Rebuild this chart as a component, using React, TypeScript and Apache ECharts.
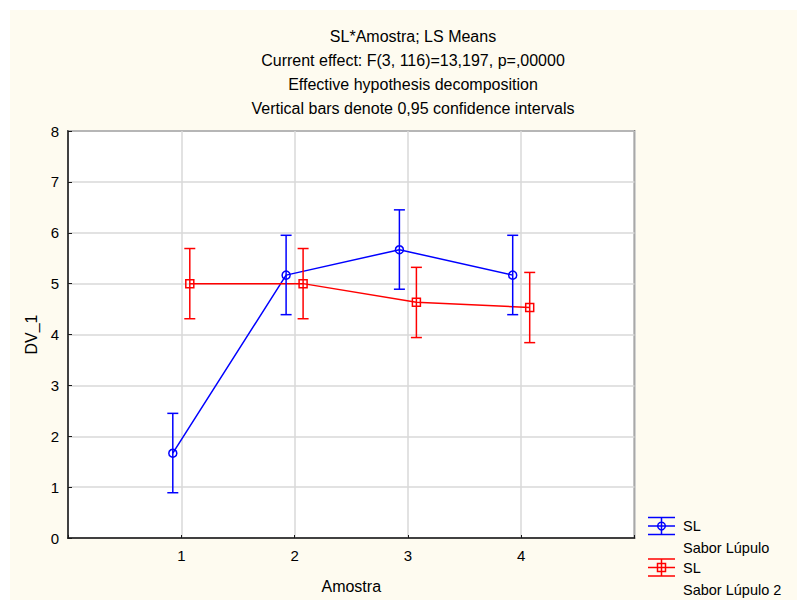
import React, { useEffect, useRef } from "react";
import * as echarts from "echarts";

// Sample levels on the x axis
const amostra = [1, 2, 3, 4];

// LS means and 0.95 confidence limits, group "SL / Sabor Lúpulo"
const meanSL1 = [1.667, 5.167, 5.667, 5.167];
const lowSL1 = [0.89, 4.39, 4.89, 4.39];
const highSL1 = [2.45, 5.95, 6.45, 5.95];

// LS means and 0.95 confidence limits, group "SL / Sabor Lúpulo 2"
const meanSL2 = [5.0, 5.0, 4.633, 4.533];
const lowSL2 = [4.31, 4.31, 3.94, 3.84];
const highSL2 = [5.69, 5.69, 5.32, 5.22];

const titleLines = [
  "SL*Amostra; LS Means",
  "Current effect: F(3, 116)=13,197, p=,00000",
  "Effective hypothesis decomposition",
  "Vertical bars denote 0,95 confidence intervals",
];

const yTicks = [0, 1, 2, 3, 4, 5, 6, 7, 8];

const FONT = "'Liberation Sans', Arial, sans-serif";
const BLUE = "#0000ff";
const RED = "#ff0000";
const DODGE = 0.075;

function errorBars(color: string, xs: number[], lo: number[], hi: number[], shift: number) {
  return {
    type: "custom",
    z: 3,
    data: xs.map((x, i) => [x + shift, lo[i], hi[i]]),
    encode: { x: 0, y: [1, 2] },
    renderItem: (_params: any, api: any) => {
      const x = api.value(0);
      const pLo = api.coord([x, api.value(1)]);
      const pHi = api.coord([x, api.value(2)]);
      const w = 5.5;
      const st = { stroke: color, lineWidth: 1.5 };
      return {
        type: "group",
        children: [
          { type: "line", shape: { x1: pLo[0], y1: pLo[1], x2: pHi[0], y2: pHi[1] }, style: st },
          { type: "line", shape: { x1: pHi[0] - w, y1: pHi[1], x2: pHi[0] + w, y2: pHi[1] }, style: st },
          { type: "line", shape: { x1: pLo[0] - w, y1: pLo[1], x2: pLo[0] + w, y2: pLo[1] }, style: st },
        ],
      };
    },
  };
}

function meanLine(color: string, symbol: string, xs: number[], ys: number[], shift: number) {
  return {
    type: "line",
    z: 2,
    data: xs.map((x, i) => [x + shift, ys[i]]),
    symbol,
    symbolSize: 8,
    showSymbol: true,
    lineStyle: { color, width: 1.5 },
    itemStyle: { color: "transparent", borderColor: color, borderWidth: 1.5 },
  };
}

function legendEntry(color: string, marker: "circle" | "square", top: number, label1: string, label2: string) {
  const st = { stroke: color, lineWidth: 1.5 };
  const x1 = 648;
  const x2 = 675;
  const cx = 661.5;
  const mid = top + 8.5;
  const bottom = top + 17;
  const markerEl =
    marker === "circle"
      ? { type: "circle", shape: { cx, cy: mid, r: 3.8 }, style: { fill: "none", ...st } }
      : { type: "rect", shape: { x: cx - 4, y: mid - 4, width: 8, height: 8 }, style: { fill: "none", ...st } };
  return [
    { type: "line", shape: { x1, y1: top, x2, y2: top }, style: st },
    { type: "line", shape: { x1, y1: mid, x2, y2: mid }, style: st },
    { type: "line", shape: { x1, y1: bottom, x2, y2: bottom }, style: st },
    { type: "line", shape: { x1: cx, y1: top, x2: cx, y2: bottom }, style: st },
    markerEl,
    {
      type: "text",
      x: 683,
      y: mid,
      style: { text: label1, font: `14.5px ${FONT}`, fill: "#000", textVerticalAlign: "middle" },
    },
    {
      type: "text",
      x: 683,
      y: mid + 22,
      style: { text: label2, font: `14.5px ${FONT}`, fill: "#000", textVerticalAlign: "middle" },
    },
  ];
}

export default function App() {
  const ref = useRef<HTMLDivElement>(null);

  useEffect(() => {
    if (!ref.current) return;
    const chart = echarts.init(ref.current, undefined, { renderer: "svg" });
    chart.setOption({
      animation: false,
      backgroundColor: "transparent",
      textStyle: { fontFamily: FONT },
      title: {
        text: titleLines.join("\n"),
        left: 408,
        top: 19,
        textAlign: "center",
        textStyle: { fontSize: 16, fontWeight: "normal", color: "#000", lineHeight: 24, fontFamily: FONT },
      },
      grid: {
        left: 68,
        top: 131,
        right: 162.5,
        bottom: 62,
        show: true,
        backgroundColor: "#ffffff",
        borderColor: "#1a1a1a",
        borderWidth: 1.5,
      },
      xAxis: {
        type: "value",
        min: 0,
        max: 5,
        interval: 1,
        name: "Amostra",
        nameLocation: "middle",
        nameGap: 40,
        nameTextStyle: { fontSize: 16, color: "#000", fontFamily: FONT },
        axisLine: { show: true, lineStyle: { color: "#1a1a1a", width: 1.5 } },
        axisTick: { show: true, inside: true, length: 3, lineStyle: { color: "#1a1a1a" } },
        axisLabel: {
          fontSize: 15,
          color: "#000",
          margin: 10,
          formatter: (v: number) => (amostra.includes(v) ? String(v) : ""),
        },
        splitLine: { show: true, lineStyle: { color: "#d9d9d9", width: 1.5 } },
      },
      yAxis: {
        type: "value",
        min: 0,
        max: 8,
        interval: 1,
        name: "DV_1",
        nameLocation: "middle",
        nameGap: 27,
        nameTextStyle: { fontSize: 16, color: "#000", fontFamily: FONT },
        axisLine: { show: true, lineStyle: { color: "#1a1a1a", width: 1.5 } },
        axisTick: { show: true, inside: true, length: 4, lineStyle: { color: "#1a1a1a" } },
        axisLabel: {
          fontSize: 15,
          color: "#000",
          margin: 9,
          formatter: (v: number) => (yTicks.includes(v) ? String(v) : ""),
        },
        splitLine: { show: true, lineStyle: { color: "#d9d9d9", width: 1.5 } },
      },
      series: [
        meanLine(BLUE, "circle", amostra, meanSL1, -DODGE),
        errorBars(BLUE, amostra, lowSL1, highSL1, -DODGE),
        meanLine(RED, "rect", amostra, meanSL2, DODGE),
        errorBars(RED, amostra, lowSL2, highSL2, DODGE),
      ],
      graphic: [
        ...legendEntry(BLUE, "circle", 517.5, "SL", "Sabor Lúpulo"),
        ...legendEntry(RED, "square", 559, "SL", "Sabor Lúpulo 2"),
      ],
    });
    return () => chart.dispose();
  }, []);

  return (
    <div style={{ position: "absolute", left: 0, top: 0, width: 797, height: 600, background: "#ffffff" }}>
      <div style={{ position: "absolute", left: 10, top: 10, right: 0, bottom: 0, background: "#fefbf0" }} />
      <div ref={ref} style={{ position: "absolute", left: 0, top: 0, width: 797, height: 600 }} />
    </div>
  );
}
